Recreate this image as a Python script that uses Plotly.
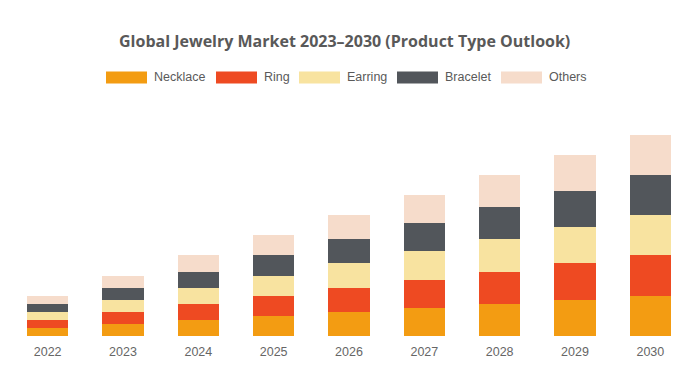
import plotly.graph_objects as go

years = ["2022", "2023", "2024", "2025", "2026", "2027", "2028", "2029", "2030"]
necklace = [2, 3, 4, 5, 6, 7, 8, 9, 10]
ring = [2, 3, 4, 5, 6, 7, 8, 9, 10]
earring = [2, 3, 4, 5, 6, 7, 8, 9, 10]
bracelet = [2, 3, 4, 5, 6, 7, 8, 9, 10]
others = [2, 3, 4, 5, 6, 7, 8, 9, 10]

series_names = ["Necklace", "Ring", "Earring", "Bracelet", "Others"]
series_vals = [necklace, ring, earring, bracelet, others]
colors = ["#F39C12", "#EE4A22", "#F8E3A0", "#52565B", "#F6DCCB"]

OFF = 8  # page body margin
W, H = 692 - OFF, 389 - OFF
# screen-space plot area: x 10..688, y 110..336
L, R = 10 - OFF, 692 - 688
T = 110 - OFF
B = H - (336 - OFF)
PW, PH = W - L - R, H - T - B


def px(x):
    return (x - OFF - L) / PW


def py(y):
    return (H - B - (y - OFF)) / PH


fig = go.Figure()
for name, vals, col in zip(series_names, series_vals, colors):
    fig.add_trace(go.Bar(x=years, y=vals, name=name, marker=dict(color=col, line=dict(width=0)),
                         showlegend=False))

# custom legend (wide swatches)
legend_swatch_x = [106, 216, 299, 397, 501]
shapes = []
annotations = []
for name, col, sx in zip(series_names, colors, legend_swatch_x):
    shapes.append(dict(type="rect", xref="paper", yref="paper",
                       x0=px(sx), x1=px(sx + 41), y0=py(83.5), y1=py(71.5),
                       fillcolor=col, line=dict(width=0), layer="above"))
    annotations.append(dict(text=name, xref="paper", yref="paper", x=px(sx + 46), y=py(77),
                            xanchor="left", yanchor="middle", showarrow=False,
                            font=dict(family="Liberation Sans, Arial, sans-serif", size=12.5, color="#5A5A5A")))

annotations.append(dict(text="<b>Global Jewelry Market 2023–2030 (Product Type Outlook)</b>",
                        xref="paper", yref="paper", x=px(344), y=py(41), xanchor="center", yanchor="middle",
                        showarrow=False,
                        font=dict(family="Open Sans, sans-serif", size=16, color="#595959")))

fig.update_layout(
    width=W, height=H,
    margin=dict(l=L, r=R, t=T, b=B, pad=0),
    barmode="stack",
    bargap=0.455,
    plot_bgcolor="white",
    paper_bgcolor="white",
    shapes=shapes,
    annotations=annotations,
    xaxis=dict(showgrid=False, zeroline=False, showline=False, ticks="", ticklabelstandoff=6,
               tickfont=dict(family="Liberation Sans, Arial, sans-serif", size=12.5, color="#666666")),
    yaxis=dict(range=[0, 56.1], visible=False, showgrid=False, zeroline=False),
)

fig.write_html("out.html")
